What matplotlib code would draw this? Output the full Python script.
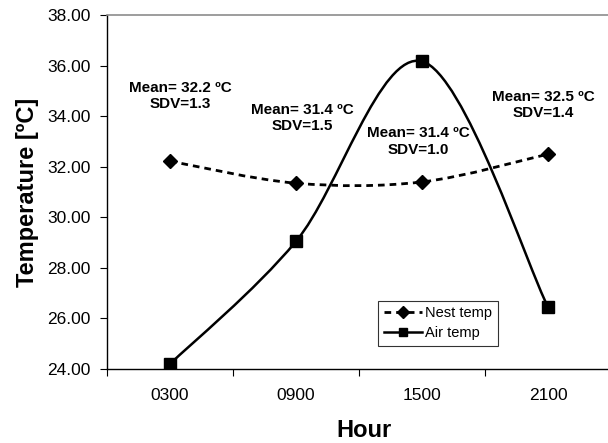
import matplotlib.pyplot as plt
import numpy as np
from matplotlib.path import Path
from matplotlib.patches import PathPatch
from matplotlib.lines import Line2D

plt.rcParams['font.family'] = ['Liberation Sans', 'DejaVu Sans']

hours = ['0300', '0900', '1500', '2100']
nest_temp = [32.22, 31.35, 31.4, 32.5]
air_temp = [24.2, 29.05, 36.17, 26.45]
notes = ['Mean= 32.2 ºC\nSDV=1.3', 'Mean= 31.4 ºC\nSDV=1.5',
         'Mean= 31.4 ºC\nSDV=1.0', 'Mean= 32.5 ºC\nSDV=1.4']
note_x = [0.58, 1.55, 2.47, 3.46]
note_y = [34.8, 33.92, 33.0, 34.43]

DASH = (0, (2.4, 1.8))


def smooth_path(xs, ys):
    # excel-like smoothed line: bezier segments with catmull-rom control points
    pts = np.column_stack([xs, ys])
    ext = np.vstack([pts[0], pts, pts[-1]])
    verts = [tuple(pts[0])]
    codes = [Path.MOVETO]
    for i in range(1, len(ext) - 2):
        p0, p1, p2, p3 = ext[i - 1], ext[i], ext[i + 1], ext[i + 2]
        verts += [tuple(p1 + (p2 - p0) / 6), tuple(p2 - (p3 - p1) / 6), tuple(p2)]
        codes += [Path.CURVE4] * 3
    return Path(verts, codes)


fig = plt.figure(figsize=(6.08, 4.43), dpi=100)
ax = fig.add_axes([0.176, 0.167, 0.829, 0.799])

x = np.arange(len(hours)) + 0.5

ax.add_patch(PathPatch(smooth_path(x, nest_temp), fill=False, lw=2.0,
                       ls=DASH, edgecolor='black', zorder=2))
ax.add_patch(PathPatch(smooth_path(x, air_temp), fill=False, lw=1.8,
                       edgecolor='black', zorder=2))
ax.plot(x, nest_temp, ls='none', marker='D', ms=7.5, color='black', zorder=3)
ax.plot(x, air_temp, ls='none', marker='s', ms=9, color='black', zorder=3)

for xi, yi, t in zip(note_x, note_y, notes):
    ax.text(xi, yi, t, ha='center', va='center', fontsize=11, fontweight='bold',
            linespacing=1.2)

ax.set_xlim(0, 4)
ax.set_ylim(24, 38)
ax.set_yticks(np.arange(24, 38.1, 2))
ax.set_yticklabels(['%.2f' % v for v in np.arange(24, 38.1, 2)])
ax.set_xticks([0, 1, 2, 3, 4])
ax.set_xticklabels([])
ax.set_xticks(x, minor=True)
ax.set_xticklabels(hours, minor=True)
ax.tick_params(axis='x', which='minor', length=0, pad=14, labelsize=12.5)
ax.tick_params(axis='x', which='major', length=5, direction='out')
ax.tick_params(axis='y', length=5, direction='out', labelsize=12.5, pad=7)

ax.spines['right'].set_visible(False)
ax.spines['top'].set_color('0.55')
ax.spines['top'].set_linewidth(1.2)
ax.spines['left'].set_linewidth(1.0)
ax.spines['bottom'].set_linewidth(1.0)

ax.set_xlabel('Hour', fontsize=17, fontweight='bold')
ax.xaxis.set_label_coords(0.51, -0.14)
ax.set_ylabel('Temperature [ºC]', fontsize=17, fontweight='bold', labelpad=6)

handles = [Line2D([], [], color='black', ls=DASH, lw=2.0, marker='D', ms=6),
           Line2D([], [], color='black', lw=1.8, marker='s', ms=6)]
leg = ax.legend(handles, ['Nest temp', 'Air temp'], loc='lower left',
                bbox_to_anchor=(0.538, 0.065), fontsize=10.5, frameon=True,
                fancybox=False, handlelength=2.6, handletextpad=0.2,
                borderpad=0.4, labelspacing=0.4, borderaxespad=0)
leg.get_frame().set_edgecolor('black')
leg.get_frame().set_linewidth(0.8)

plt.savefig('out.png', dpi=100)
